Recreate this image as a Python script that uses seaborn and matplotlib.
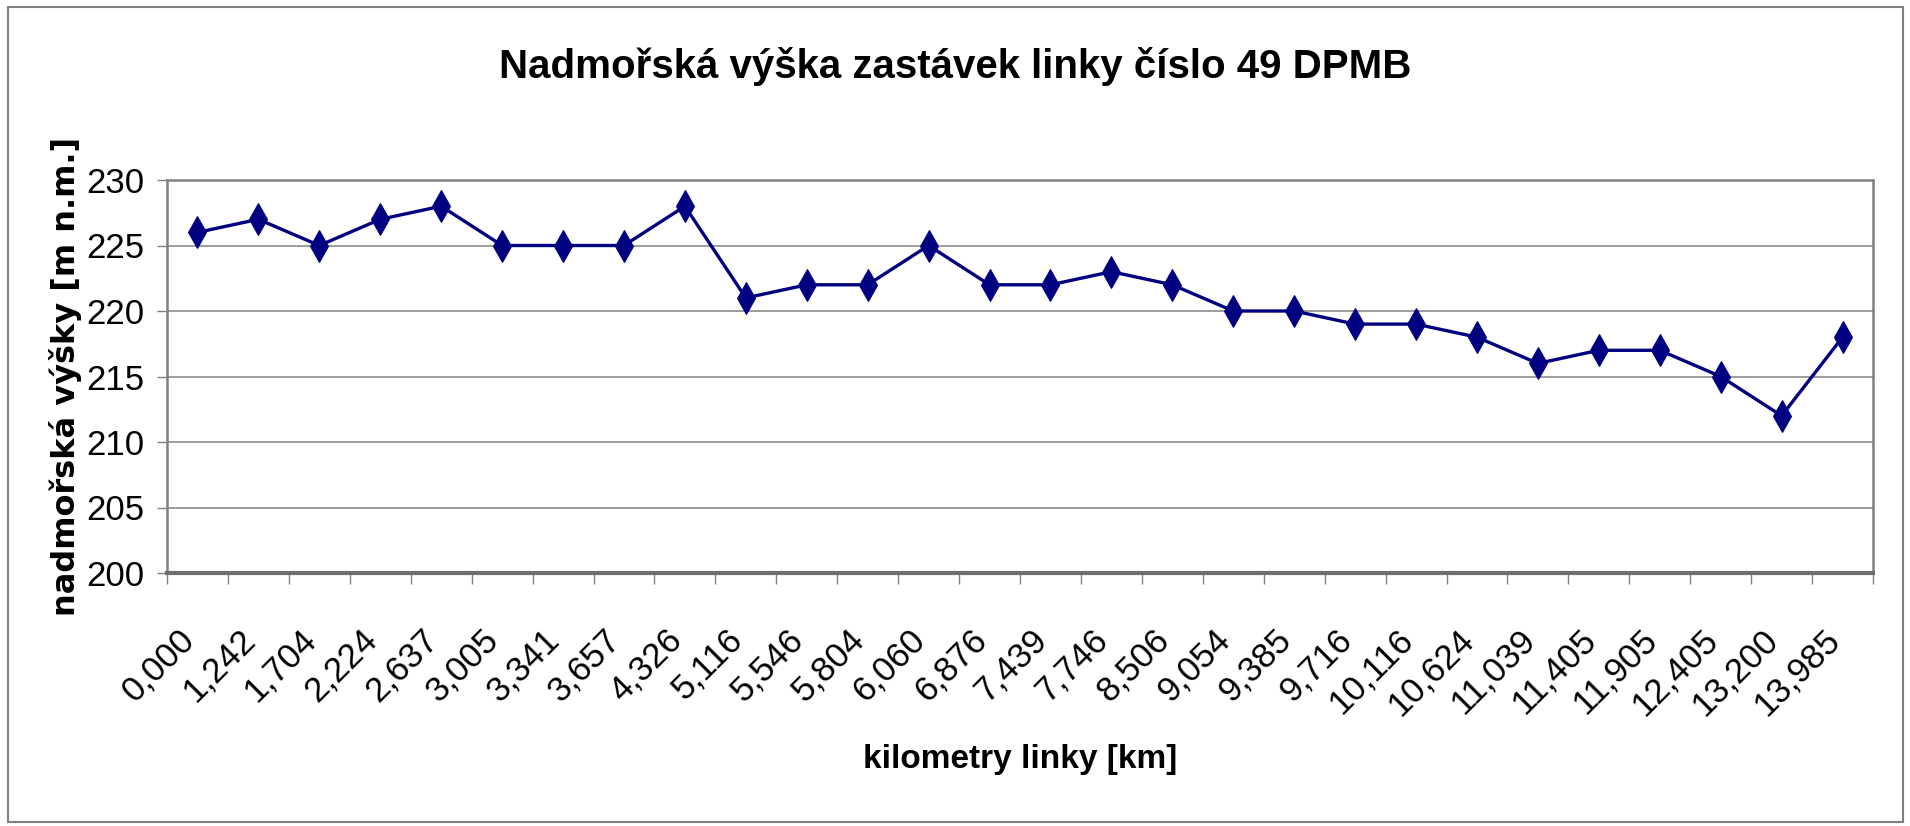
import numpy as np
import pandas as pd
import matplotlib
matplotlib.use('Agg')
import matplotlib.pyplot as plt
import matplotlib.transforms as mtransforms
import seaborn as sns
from matplotlib.patches import Rectangle

km = ['0,000', '1,242', '1,704', '2,224', '2,637', '3,005', '3,341', '3,657', '4,326',
      '5,116', '5,546', '5,804', '6,060', '6,876', '7,439', '7,746', '8,506', '9,054',
      '9,385', '9,716', '10,116', '10,624', '11,039', '11,405', '11,905', '12,405',
      '13,200', '13,985']
vyska = [226, 227, 225, 227, 228, 225, 225, 225, 228, 221, 222, 222, 225, 222, 222,
         223, 222, 220, 220, 219, 219, 218, 216, 217, 217, 215, 212, 218]
y_ticks = [200, 205, 210, 215, 220, 225, 230]

df = pd.DataFrame({'km': km, 'vyska': vyska})

sns.set_style('white')
# uzka pisma, kdyz nejsou, tak Liberation Sans
narrow = ['Liberation Sans Narrow', 'DejaVu Sans Condensed', 'Liberation Sans', 'DejaVu Sans']
plt.rcParams['font.family'] = narrow
plt.rcParams['text.color'] = 'black'
plt.rcParams['axes.labelcolor'] = 'black'

fig = plt.figure(figsize=(19.1, 8.26), dpi=100)
ax = fig.add_axes([167 / 1910, 1 - 573 / 826, (1873 - 167) / 1910, (573 - 180) / 826])

sns.lineplot(data=df, x='km', y='vyska', sort=False, ax=ax, color='#000080',
             linewidth=2.4, marker='d', markersize=16, markeredgecolor='#000080')

ax.set_xlim(-0.5, len(km) - 0.5)
ax.set_ylim(200, 230)
ax.set_yticks(y_ticks)
ax.set_yticklabels([str(v) for v in y_ticks], fontsize=25)
ax.yaxis.grid(True, color='#8c8c8c', linewidth=1.2)
ax.set_axisbelow(True)

ax.set_xticks(range(len(km)))
ax.set_xticklabels(km, rotation=45, ha='right', va='top', rotation_mode='anchor', fontsize=25)
ax.set_xticks(np.arange(-0.5, len(km), 1), minor=True)
ax.tick_params(axis='x', which='major', length=0, pad=36, labelcolor='black')
ax.tick_params(axis='x', which='minor', length=8, width=1, color='#808080', direction='out', bottom=True)
ax.tick_params(axis='y', length=7, width=1, color='#808080', direction='out', left=True, pad=9,
               labelcolor='black')

# posun popisku doleva, az po tick_params (ten transformaci prepise)
shift = mtransforms.ScaledTranslation(-20 / 100, 0, fig.dpi_scale_trans)
for t in ax.xaxis.get_major_ticks():
    t.label1.set_transform(t.label1.get_transform() + shift)

for side in ['top', 'right', 'left']:
    ax.spines[side].set_color('#808080')
    ax.spines[side].set_linewidth(1.8)
ax.spines['bottom'].set_color('#6e6e6e')
ax.spines['bottom'].set_linewidth(3)

ax.set_xlabel('kilometry linky [km]', fontsize=24, fontweight='bold')
ax.xaxis.set_label_coords(0.5, -0.435)
ax.set_ylabel('nadmořská výšky [m n.m.]', fontsize=23, fontweight='bold',
              family=['DejaVu Sans'])
ax.yaxis.set_label_coords(-0.05, 0.5)

fig.text(0.5, 1 - 67 / 826, 'Nadmořská výška zastávek linky číslo 49 DPMB',
         ha='center', va='center', fontsize=29, fontweight='bold')

fig.patches.append(Rectangle((8 / 1910, 4 / 826), 1895 / 1910, 815 / 826,
                             transform=fig.transFigure, fill=False,
                             edgecolor='#808080', linewidth=1.5))

fig.savefig('out.png', dpi=100)
